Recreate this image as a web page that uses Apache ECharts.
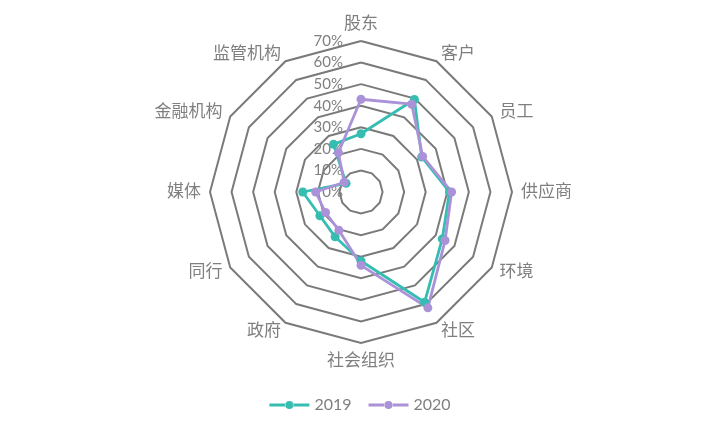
<!DOCTYPE html>
<html>
<head>
<meta charset="utf-8">
<script src="https://cdn.jsdelivr.net/npm/echarts@6/dist/echarts.min.js"></script>
<style>html,body{margin:0;padding:0;background:#fff;}#c{width:720px;height:432px;}</style>
</head>
<body>
<div id="c"></div>
<script>
// categories in clockwise order starting from the top
const categories = ['股东','客户','员工','供应商','环境','社区','社会组织','政府','同行','媒体','金融机构','监管机构'];
const values2019 = [27, 49.5, 32.5, 41, 43.5, 59, 32, 24, 22, 27, 8, 25.5];
const values2020 = [43, 47, 33, 42, 45, 62, 34, 20.5, 19, 21, 9, 21];
const seriesNames = ['2019','2020'];
const axisMax = 70;
const axisInterval = 10;

// ECharts radar runs counter-clockwise; reorder so the picture reads clockwise
const order = [0].concat(categories.map((_, i) => i).slice(1).reverse());
const reorder = arr => order.map(i => arr[i]);

const FONT = "Lato, 'Noto Sans CJK SC', sans-serif";
const GRAY = '#7f7f7f';
const LINE_ICON = 'path://M0,2.6 L16.5,2.6 L16.5,5.4 L0,5.4 Z M23.5,2.6 L40,2.6 L40,5.4 L23.5,5.4 Z M16,4 A4,4 0 1,0 24,4 A4,4 0 1,0 16,4 Z';

const indicators = reorder(categories).map((n, i) => {
  const o = { name: n, min: 0, max: axisMax };
  if (i === 0) o.axisLabel = { show: true };
  return o;
});

const chart = echarts.init(document.getElementById('c'));
chart.setOption({
  animation: false,
  backgroundColor: '#fff',
  color: ['#35bdb2', '#ab92d8'],
  legend: {
    data: seriesNames.map(n => ({ name: n, icon: LINE_ICON })),
    bottom: 14,
    left: 'center',
    itemWidth: 40,
    itemHeight: 8,
    itemGap: 17,
    textStyle: { color: GRAY, fontSize: 16, fontFamily: FONT }
  },
  radar: {
    center: [361, 192],
    radius: 151,
    startAngle: 90,
    splitNumber: axisMax / axisInterval,
    shape: 'polygon',
    nameGap: 9,
    indicator: indicators,
    axisName: { color: GRAY, fontSize: 17, fontFamily: FONT },
    axisLine: { show: false },
    axisTick: { show: false },
    axisLabel: {
      show: false,
      color: GRAY,
      fontSize: 15,
      fontFamily: FONT,
      margin: 18,
      formatter: v => v + '%'
    },
    splitLine: { lineStyle: { color: '#7a7a7a', width: 2 } },
    splitArea: { show: false }
  },
  series: [{
    type: 'radar',
    symbol: 'circle',
    symbolSize: 9,
    lineStyle: { width: 2.8 },
    data: [
      { name: seriesNames[0], value: reorder(values2019) },
      { name: seriesNames[1], value: reorder(values2020) }
    ]
  }]
});
</script>
</body>
</html>
